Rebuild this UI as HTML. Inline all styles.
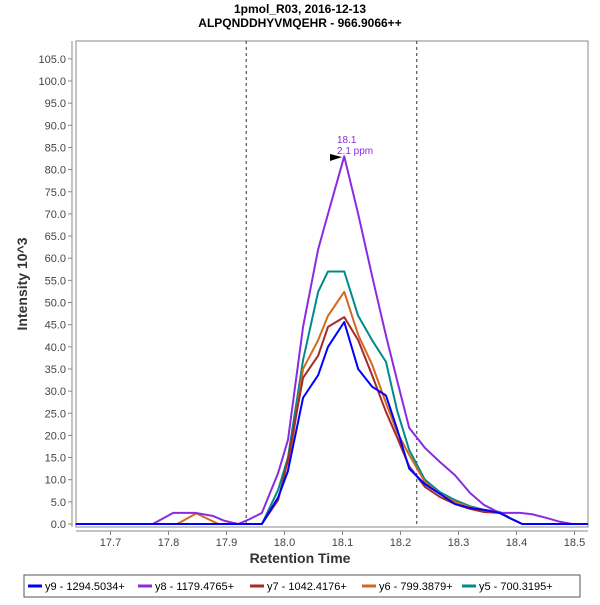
<!DOCTYPE html>
<html><head><meta charset="utf-8"><style>
body{margin:0;background:#fff;font-family:"Liberation Sans",sans-serif}
svg text{font-family:"Liberation Sans",sans-serif}
</style></head><body>
<svg id="chart" width="600" height="600" xmlns="http://www.w3.org/2000/svg">
<rect width="600" height="600" fill="#fff"/>
<text x="300" y="13" text-anchor="middle" font-size="12" font-weight="bold">1pmol_R03, 2016-12-13</text>
<text x="300" y="27" text-anchor="middle" font-size="12" font-weight="bold">ALPQNDDHYVMQEHR - 966.9066++</text>
<rect x="76" y="41" width="512" height="486" fill="#fff" stroke="#888"/>
<g id="axes"></g>
<g id="series"></g>
<text x="300" y="563" text-anchor="middle" font-size="14" font-weight="bold" fill="#333">Retention Time</text>
<text transform="translate(27,284) rotate(-90)" text-anchor="middle" font-size="14" font-weight="bold" fill="#333">Intensity 10^3</text>
<text x="337" y="143" font-size="10" fill="#8a2be2">18.1</text>
<text x="337" y="154" font-size="10" fill="#8a2be2">2.1 ppm</text>
<polygon points="330,154 342,157 330,161" fill="#000"/>
<g>
<rect x="24" y="575" width="556" height="22" fill="#fff" stroke="#555"/>
<g id="legend"></g>
</g>
</svg>
<script>
const tGrid=[17.640,17.961,17.989,18.006,18.032,18.058,18.075,18.103,18.127,18.151,18.175,18.194,18.215,18.242,18.268,18.294,18.320,18.344,18.371,18.389,18.410,18.523];
const y9=[0,0,6,12,28.5,33.6,40,45.6,35,31,29,21.5,12.5,9,6.8,4.5,3.6,3.2,2.5,1.3,0,0];
const y7=[0,0,5.4,14.5,33,38,44.5,46.7,41.5,33.6,25.3,19.6,13,8.4,6.1,4.5,3.4,2.7,2.5,1.3,0,0];
const y6=[0,0,6,12,35,41.5,47,52.4,42.7,36,27.3,20.8,15.6,9.5,6.8,5,3.8,3.2,2.7,1.3,0,0];
const y5=[0,0,7.7,15,37,52.4,57,57,47,41.5,36.6,25.7,16.7,10,7.2,5.4,4,3.2,2.7,1.3,0,0];
const y8T=[17.640,17.773,17.808,17.847,17.877,17.897,17.920,17.940,17.961,17.989,18.006,18.032,18.058,18.075,18.103,18.127,18.151,18.175,18.194,18.215,18.242,18.268,18.294,18.320,18.344,18.371,18.406,18.427,18.451,18.475,18.496,18.523];
const y8=[0,0,2.5,2.5,1.8,0.7,0,1.1,2.5,11.5,19,44.5,62,70,83,70,56,42.5,32.5,21.7,17.2,14,11,7,4.3,2.5,2.5,2.2,1.4,0.5,0,0];
const y6EarlyT=[17.815,17.848,17.886];
const y6Early=[0,2.4,0];
const xTicks=[17.7,17.8,17.9,18.0,18.1,18.2,18.3,18.4,18.5];
const yTicks=[0,5,10,15,20,25,30,35,40,45,50,55,60,65,70,75,80,85,90,95,100,105];
const boundaries=[17.934,18.228];
const legendLabels=["y9 - 1294.5034+","y8 - 1179.4765+","y7 - 1042.4176+","y6 - 799.3879+","y5 - 700.3195+"];
const colors=["#0000ff","#8a2be2","#a52a2a","#d2691e","#008b8b"];
const X=t=>110.5+(t-17.7)*580;
const Y=v=>524-v*4.43;
const NS="http://www.w3.org/2000/svg";
function mk(tag,attrs,parent){const e=document.createElementNS(NS,tag);for(const k in attrs)e.setAttribute(k,attrs[k]);parent.appendChild(e);return e;}
const axes=document.getElementById('axes');
let a=mk('line',{x1:72,y1:41,x2:72,y2:527,stroke:'#888'},axes);


a=mk('line',{x1:76,y1:531,x2:588,y2:531,stroke:'#888'},axes);


yTicks.forEach(v=>{const y=Y(v);
 mk('line',{x1:68,y1:y,x2:72,y2:y,stroke:'#888'},axes);
 const t=mk('text',{x:66,y:y+4,'text-anchor':'end','font-size':11,fill:'#444'},axes);
 t.textContent=v.toFixed(1);
 
 });
xTicks.forEach(v=>{const x=X(v);
 mk('line',{x1:x,y1:531,x2:x,y2:535,stroke:'#888'},axes);
 const t=mk('text',{x:x,y:546,'text-anchor':'middle','font-size':11,fill:'#444'},axes);
 t.textContent=v.toFixed(1);
 
 });
boundaries.forEach(b=>{const l=mk('line',{x1:X(b),y1:41,x2:X(b),y2:527,stroke:'#333','stroke-dasharray':'3,3'},axes);
 
 });
const sg=document.getElementById('series');
function line(ts,vs,c,name){const p=mk('polyline',{points:ts.map((t,i)=>X(t)+','+Y(vs[i])).join(' '),fill:'none',stroke:c,'stroke-width':2,'stroke-linejoin':'round'},sg);
 
 }
line(y6EarlyT,y6Early,colors[3],'series-y6-early');
line(tGrid,y5,colors[4],'series-y5');
line(tGrid,y6,colors[3],'series-y6');
line(tGrid,y7,colors[2],'series-y7');
line(y8T,y8,colors[1],'series-y8');
line(tGrid,y9,colors[0],'series-y9');
const lg=document.getElementById('legend');
const lx=[28,138,250,362,462];
legendLabels.forEach((s,i)=>{
 const g=mk('g',{},lg);
 
 
 mk('line',{x1:lx[i],y1:586,x2:lx[i]+14,y2:586,stroke:colors[i],'stroke-width':3},g);
 const t=mk('text',{x:lx[i]+17,y:590,'font-size':11,fill:'#000'},g);t.textContent=s;});
</script>
</body></html>
